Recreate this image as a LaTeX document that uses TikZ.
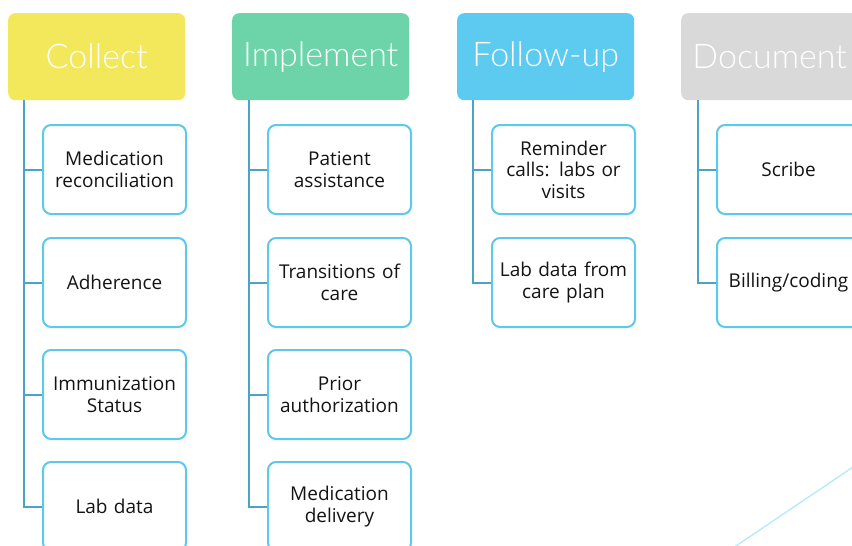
\documentclass[tikz,border=0pt]{standalone}
\usepackage{fontspec}
\setmainfont{Open Sans}
\newfontfamily\headfont{Lato Light}
\definecolor{cyel}{HTML}{F3E85C}
\definecolor{cgrn}{HTML}{6DD4A9}
\definecolor{cblu}{HTML}{5DCBF0}
\definecolor{cgry}{HTML}{D9D9D9}
\definecolor{spine}{HTML}{4BA3C6}
\definecolor{kbord}{HTML}{5BC8EC}
\tikzset{
  headbox/.style={rounded corners=7pt, minimum width=177pt, minimum height=87pt, inner sep=0pt, text=white, font=\headfont\fontsize{34}{38}\selectfont, anchor=north west},
  kidbox/.style={draw=kbord, line width=2pt, fill=white, rounded corners=8pt, minimum width=143pt, minimum height=89pt, inner sep=1pt, align=center, text width=141pt, text=black!92, font=\fontsize{19}{21.5}\selectfont, anchor=north west},
  link/.style={draw=spine, line width=2pt}
}
\begin{document}
\begin{tikzpicture}[x=1pt,y=-1pt]
\useasboundingbox (0,0) rectangle (852,546);
\clip (0,0) rectangle (852,546);
\fill[white] (0,0) rectangle (852,546);
% decorative line
\coordinate (d1) at (733,548);
\coordinate (d2) at (853,467);
\draw[cblu!45, line width=1.3pt] (d1) -- (d2);
% headers
\node[headbox, fill=cyel] (h1) at (8,13) {Collect};
\node[headbox, fill=cgrn] (h2) at (232,13) {Implement};
\node[headbox, fill=cblu] (h3) at (457,13) {Follow-up};
\node[headbox, fill=cgry] (h4) at (681,13) {Document};
% spine coordinates
\coordinate (s1) at (24,100);
\coordinate (s2) at (249,100);
\coordinate (s3) at (473,100);
\coordinate (s4) at (698,100);
% children column 1
\node[kidbox] (c11) at (42,124) {Medication\\reconciliation};
\node[kidbox] (c12) at (42,237) {Adherence};
\node[kidbox] (c13) at (42,349) {Immunization\\Status};
\node[kidbox] (c14) at (42,461) {Lab data};
% column 2
\node[kidbox] (c21) at (267,124) {Patient\\assistance};
\node[kidbox] (c22) at (267,237) {Transitions of\\care};
\node[kidbox] (c23) at (267,349) {Prior\\authorization};
\node[kidbox] (c24) at (267,461) {Medication\\delivery};
% column 3
\node[kidbox] (c31) at (491,124) {Reminder\\calls: labs or\\visits};
\node[kidbox] (c32) at (491,237) {Lab data from\\care plan};
% column 4
\node[kidbox] (c41) at (716,124) {Scribe};
\node[kidbox] (c42) at (716,237) {Billing/coding};
% connectors
\draw[link] (s1) |- (c14.west);
\foreach \c in {c11,c12,c13} \draw[link] (s1 |- \c.west) -- (\c.west);
\draw[link] (s2) |- (c24.west);
\foreach \c in {c21,c22,c23} \draw[link] (s2 |- \c.west) -- (\c.west);
\draw[link] (s3) |- (c32.west);
\draw[link] (s3 |- c31.west) -- (c31.west);
\draw[link] (s4) |- (c42.west);
\draw[link] (s4 |- c41.west) -- (c41.west);
\end{tikzpicture}
\end{document}
